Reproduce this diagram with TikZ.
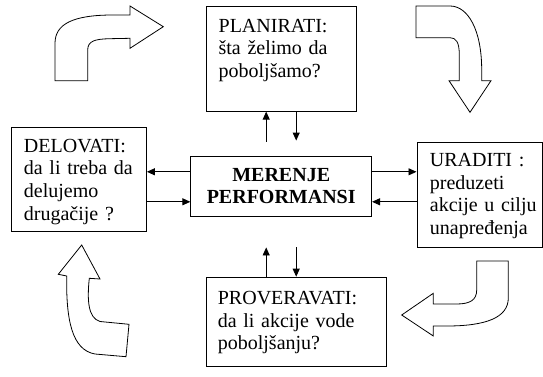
\documentclass[tikz,border=0pt]{standalone}
\usepackage{fontspec}
\setmainfont{Liberation Serif}
\usetikzlibrary{arrows.meta}
\hfuzz=20pt

\begin{document}
\begin{tikzpicture}[x=1pt, y=-1pt,
        stagebox/.style={draw, line width=0.9pt, anchor=north west, align=left, inner ysep=0pt,
            font=\fontsize{20}{22.6}\selectfont},
        mainbox/.style={draw, line width=0.9pt, align=center, inner sep=0pt,
            font=\fontsize{20}{22.4}\selectfont\bfseries},
        conn/.style={line width=0.9pt, -{Triangle[length=8pt,width=7pt]}},
        bigarrow/.style={draw, line width=0.8pt, fill=white, line join=miter}]
            \useasboundingbox (0,0) rectangle (543,377);
            \node[stagebox, text width=126pt, inner xsep=11.8pt, text height=25.5pt, text depth=79pt] (planirati) at (206.4,6.2) {PLANIRATI:\\šta~želimo~da\\poboljšamo?};
            \node[stagebox, text width=110pt, inner xsep=12.5pt, text height=25pt, text depth=79.2pt] (delovati) at (11,126.8) {DELOVATI:\\da~li~treba~da\\delujemo\\drugačije~?};
            \node[stagebox, text width=99.5pt, inner xsep=13pt, text height=24.3pt, text depth=80.7pt] (uraditi) at (416.5,141.7) {URADITI~:\\preduzeti\\akcije~u~cilju\\unapređenja};
            \node[stagebox, text width=158pt, inner xsep=11pt, text height=27.3pt, text depth=62pt] (proveravati) at (206.4,276.7) {PROVERAVATI:\\da~li~akcije~vode\\poboljšanju?};
            \node[mainbox, minimum width=180.8pt, minimum height=60pt] (merenje) at (281.2,186) {MERENJE\\PERFORMANSI};
            \coordinate (lu) at ([yshift=14.2pt]merenje.west);
            \coordinate (ld) at ([yshift=-15.8pt]merenje.west);
            \coordinate (ru) at ([yshift=14.2pt]merenje.east);
            \coordinate (rd) at ([yshift=-15.8pt]merenje.east);
            \coordinate (tu) at ([xshift=-15pt,yshift=14pt]merenje.north);
            \coordinate (td) at ([xshift=15pt,yshift=15pt]merenje.north);
            \coordinate (bu) at ([xshift=-15pt,yshift=-31pt]merenje.south);
            \coordinate (bd) at ([xshift=15pt,yshift=-31pt]merenje.south);
            \draw[conn] (lu) -- (lu -| delovati.east);
            \draw[conn] (ld -| delovati.east) -- (ld);
            \draw[conn] (ru) -- (ru -| uraditi.west);
            \draw[conn] (rd -| uraditi.west) -- (rd);
            \draw[conn] (tu) -- (tu |- planirati.south);
            \draw[conn] (td |- planirati.south) -- (td);
            \draw[conn] (bu |- proveravati.north) -- (bu);
            \draw[conn] (bd) -- (bd |- proveravati.north);
            \draw[bigarrow] (55,80.7) -- (55,43.3) .. controls (55,24) and (73,15) .. (113,15) -- (130,15) -- (130,6) -- (163.3,26.7) -- (130,48.3) -- (130,38.3) -- (110,38.7) .. controls (95,39) and (87.7,41) .. (87.7,50) -- (87.7,80.7) -- cycle;
            \draw[bigarrow] (416,6) -- (450,6) .. controls (468,6) and (481.7,30) .. (481.7,70) -- (481.7,80.7) -- (491,80.7) -- (470,112.3) -- (449,80.7) -- (459.3,80.7) -- (459.3,55) .. controls (459.3,42) and (456,37.7) .. (450,37.7) -- (416,37.7) -- cycle;
            \draw[bigarrow] (476.7,261) -- (508.3,261) -- (508.3,298) .. controls (508.3,318) and (485,326) .. (446.7,326) -- (433.3,326) -- (433.3,336) -- (401.7,315) -- (433.3,293.3) -- (433.3,304) -- (456.7,304) .. controls (470,304) and (476.7,300) .. (476.7,290) -- cycle;
            \draw[bigarrow] (81.7,245) -- (100,279) -- (89.3,278.3) .. controls (87,300) and (88,318) .. (100,321.5) -- (129,324.3) -- (126,356.7) -- (95,354) .. controls (72,350) and (66,320) .. (66.7,276) -- (58.3,274.3) -- cycle;
        \end{tikzpicture}
\end{document}
